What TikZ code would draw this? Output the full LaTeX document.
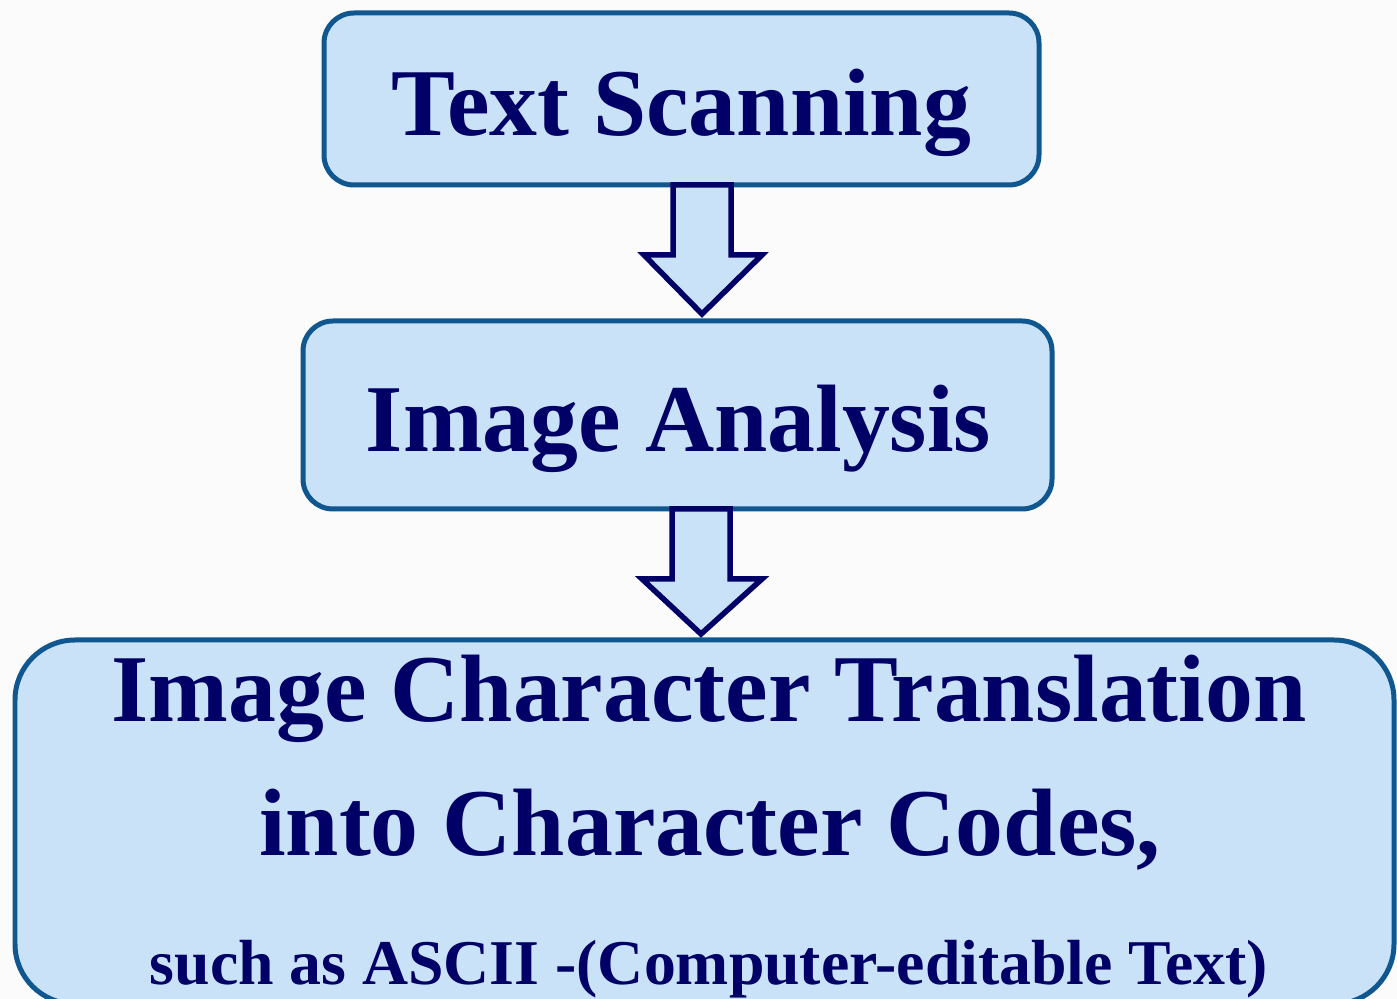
\documentclass[tikz,border=0pt]{standalone}
\usepackage{fontspec}
\setmainfont{Liberation Serif}
\usetikzlibrary{calc}
\definecolor{boxfill}{HTML}{C9E2F8}
\definecolor{boxline}{HTML}{10568F}
\definecolor{navy}{HTML}{000066}
\definecolor{bg}{HTML}{FBFBFB}
\tikzset{
  stepbox/.style={draw=boxline, fill=boxfill, line width=0.1cm},
  blockarrow/.style={draw=navy, fill=boxfill, line width=0.11cm, line join=miter},
  bigtext/.style={text=navy, font=\fontsize{54.5}{60}\selectfont\bfseries, anchor=base, inner sep=0pt},
  smalltext/.style={text=navy, font=\fontsize{36.3}{40}\selectfont\bfseries, anchor=base, inner sep=0pt}
}
\begin{document}
\begin{tikzpicture}[x=0.02cm,y=-0.02cm]
\useasboundingbox (0,0) rectangle (1397,999);
\fill[bg] (0,0) rectangle (1397,999);
\clip (0,0) rectangle (1397,999);
% boxes
\draw[stepbox, rounded corners=0.6cm] (324,13) rectangle (1039,185);
\coordinate (b1s) at (702,185);
\draw[stepbox, rounded corners=0.6cm] (303,321) rectangle (1052,509);
\coordinate (b2n) at (702,321);
\coordinate (b2s) at (701,509);
\draw[stepbox, rounded corners=1.2cm] (15,640) rectangle (1394,1004);
\coordinate (b3n) at (701,640);
% arrows
\draw[blockarrow] ($(b1s)+(-29,0)$) -- ($(b1s)+(29,0)$) -- ($(b1s)+(29,70)$) -- ($(b1s)+(60,70)$)
  -- ($(b2n)+(0,-7)$) -- ($(b1s)+(-58,70)$) -- ($(b1s)+(-29,70)$) -- cycle;
\draw[blockarrow] ($(b2s)+(-29,0)$) -- ($(b2s)+(29,0)$) -- ($(b2s)+(29,70)$) -- ($(b2s)+(61,70)$)
  -- ($(b3n)+(0,-6)$) -- ($(b2s)+(-59,70)$) -- ($(b2s)+(-29,70)$) -- cycle;
% texts
\node[bigtext] (t1) at (681.5,136) {Text Scanning};
\node[bigtext] (t2) at (678.5,452) {Image Analysis};
\node[bigtext] (t3) at (709,722) {Image Character Translation};
\node[bigtext] (t4) at (710,856) {into Character Codes,};
\node[smalltext] (t5) at (709,985) {such as ASCII -(Computer-editable Text)};
\end{tikzpicture}
\end{document}
